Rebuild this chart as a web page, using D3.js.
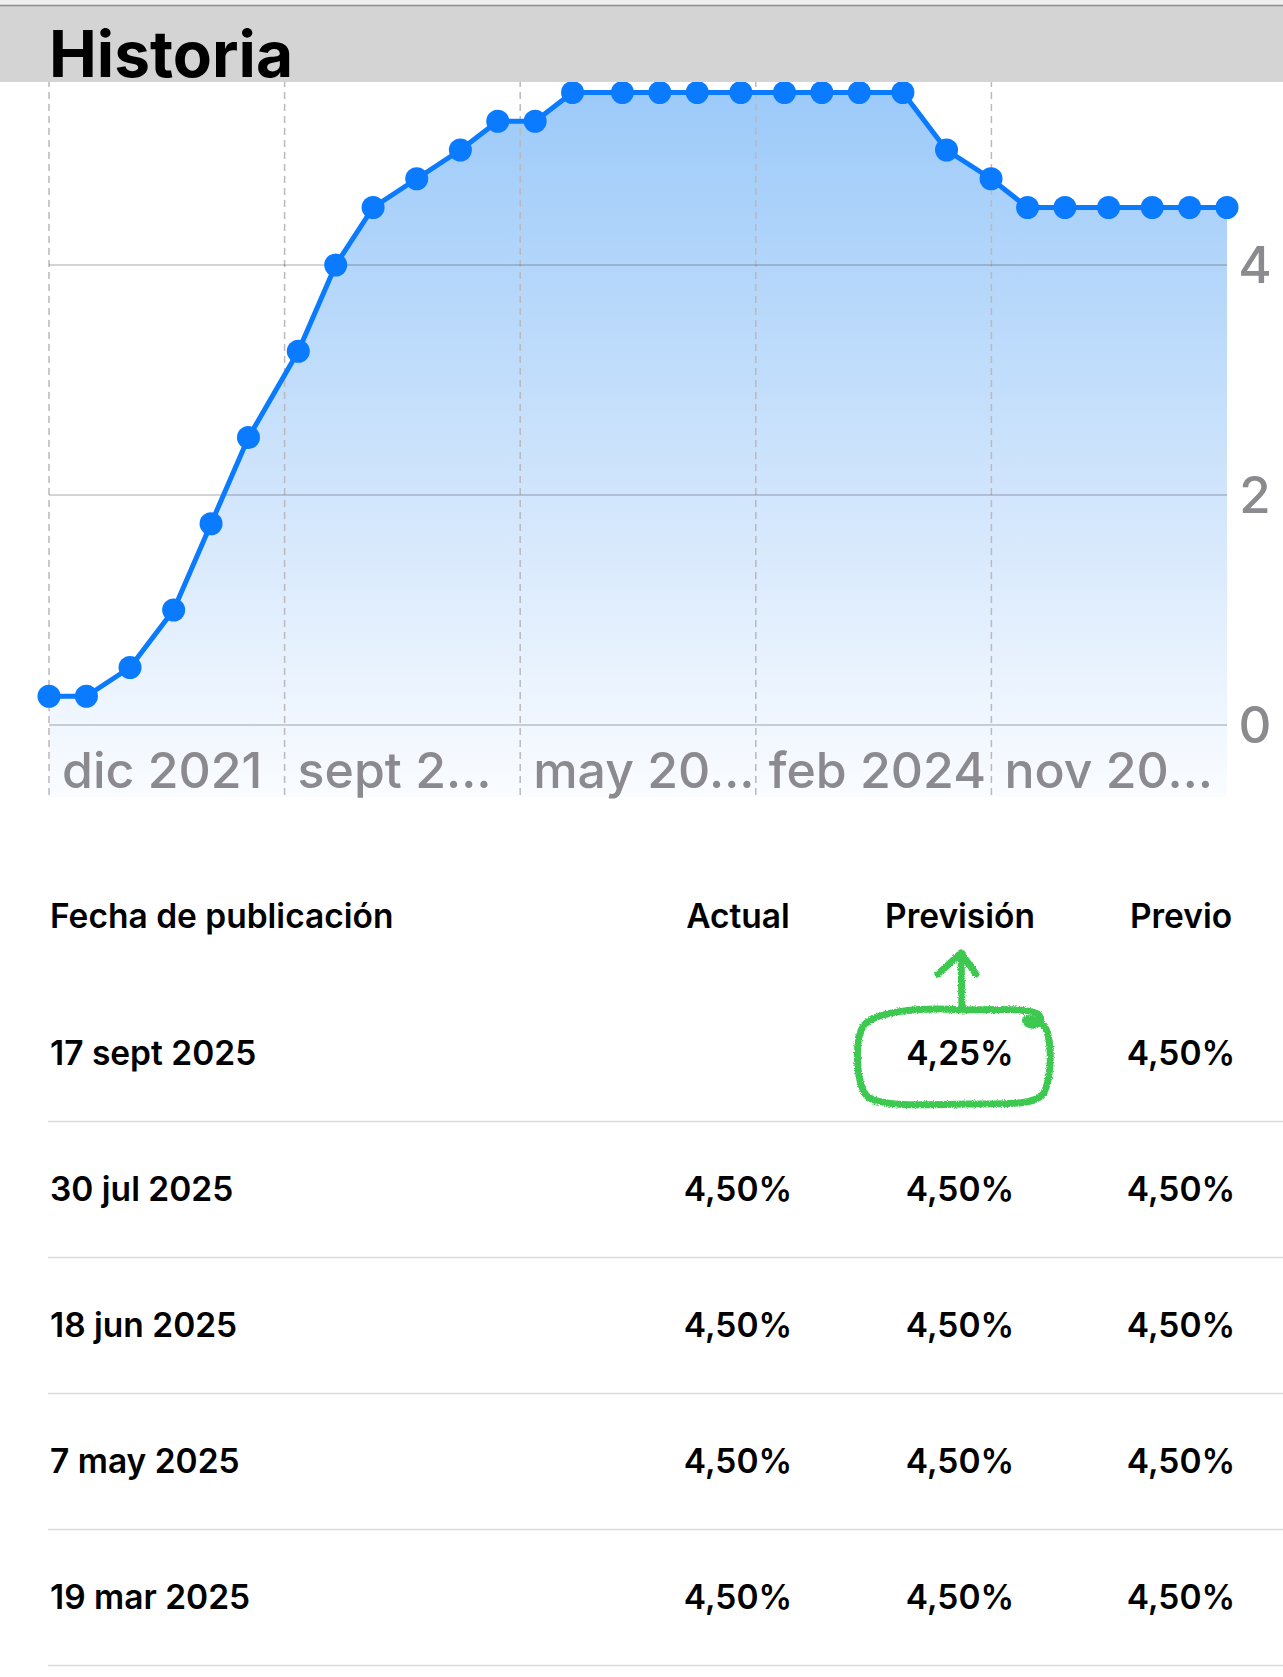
<!DOCTYPE html>
<html>
<head>
<meta charset="utf-8">
<script src="https://cdn.jsdelivr.net/npm/d3@7"></script>
<style>
  body { margin: 0; background: #fff; }
  svg { display: block; font-family: Inter, "Noto Sans", sans-serif; }
</style>
</head>
<body>
<div id="chart"></div>
<script>
// rate decisions (date, upper bound %)
var dates = ["2021-12-15","2022-01-26","2022-03-16","2022-05-04","2022-06-15","2022-07-27",
             "2022-09-21","2022-11-02","2022-12-14","2023-02-01","2023-03-22","2023-05-03",
             "2023-06-14","2023-07-26","2023-09-20","2023-11-01","2023-12-13","2024-01-31",
             "2024-03-20","2024-05-01","2024-06-12","2024-07-31","2024-09-18","2024-11-07",
             "2024-12-18","2025-01-29","2025-03-19","2025-05-07","2025-06-18","2025-07-30"];
var rates = [0.25,0.25,0.5,1.0,1.75,2.5,3.25,4.0,4.5,4.75,5.0,5.25,
             5.25,5.5,5.5,5.5,5.5,5.5,5.5,5.5,5.5,5.5,5.0,4.75,
             4.5,4.5,4.5,4.5,4.5,4.5];
var xTickLabels = ["dic 2021","sept 2…","may 20…","feb 2024","nov 20…"];
var yTicks = [0, 2, 4];

// table
var columns = ["Fecha de publicación","Actual","Previsión","Previo"];
var pubDates = ["17 sept 2025","30 jul 2025","18 jun 2025","7 may 2025","19 mar 2025"];
var actual   = [null, 4.5, 4.5, 4.5, 4.5];
var forecast = [4.25, 4.5, 4.5, 4.5, 4.5];
var previous = [4.5, 4.5, 4.5, 4.5, 4.5];

var W = 1283, H = 1677;
var parse = d3.timeParse("%Y-%m-%d");
var data = dates.map(function(d, i) { return {date: parse(d), value: rates[i]}; });

var svg = d3.select("#chart").append("svg")
    .attr("width", W)
    .attr("height", H);

var defs = svg.append("defs");
var grad = defs.append("linearGradient")
    .attr("id", "fillGrad")
    .attr("x1", 0).attr("y1", 0).attr("x2", 0).attr("y2", 1);
grad.append("stop").attr("offset", "0%").attr("stop-color", "#9ccaf9");
grad.append("stop").attr("offset", "55%").attr("stop-color", "#cfe4fc");
grad.append("stop").attr("offset", "100%").attr("stop-color", "#fafcff");

// crayon look for the annotation
var rough = defs.append("filter").attr("id", "rough")
    .attr("x", "-10%").attr("y", "-10%").attr("width", "120%").attr("height", "120%");
rough.append("feTurbulence").attr("type", "fractalNoise")
    .attr("baseFrequency", 0.9).attr("numOctaves", 2).attr("result", "noise");
rough.append("feDisplacementMap").attr("in", "SourceGraphic").attr("in2", "noise")
    .attr("scale", 3.5).attr("xChannelSelector", "R").attr("yChannelSelector", "G");

// scales
var x = d3.scaleTime()
    .domain(d3.extent(data, function(d) { return d.date; }))
    .range([49, 1227]);
var y = d3.scaleLinear().domain([0, 4]).range([725, 265]);
var plotBottom = 797;

// vertical dashed grid: 5 equal steps along the time range
var xr = x.range();
var xTicks = d3.range(5).map(function(k) {
  return x.invert(xr[0] + k * (xr[1] - xr[0]) / 5);
});

var g = svg.append("g");

// Area
var area = d3.area()
    .x(function(d) { return x(d.date); })
    .y0(plotBottom)
    .y1(function(d) { return y(d.value); });

g.append("path")
    .datum(data)
    .attr("d", area)
    .attr("fill", "url(#fillGrad)");

g.selectAll(".vgrid")
    .data(xTicks)
  .enter().append("line")
    .attr("class", "vgrid")
    .attr("x1", function(d) { return x(d); })
    .attr("x2", function(d) { return x(d); })
    .attr("y1", 80)
    .attr("y2", plotBottom)
    .attr("stroke", "#b9b9be")
    .attr("stroke-width", 1.5)
    .attr("stroke-dasharray", "7,5");

g.selectAll(".hgrid")
    .data(yTicks)
  .enter().append("line")
    .attr("class", "hgrid")
    .attr("x1", xr[0])
    .attr("x2", xr[1])
    .attr("y1", function(d) { return y(d); })
    .attr("y2", function(d) { return y(d); })
    .attr("stroke", "rgba(60,60,67,0.22)")
    .attr("stroke-width", 2);

// X labels
g.selectAll(".xlab")
    .data(xTicks)
  .enter().append("text")
    .attr("class", "xlab")
    .attr("x", function(d) { return x(d) + 13; })
    .attr("y", 788)
    .attr("font-size", 50)
    .attr("font-weight", 500)
    .attr("fill", "#8a8a8f")
    .text(function(d, i) { return xTickLabels[i]; });

// Y labels on the right
g.selectAll(".ylab")
    .data(yTicks)
  .enter().append("text")
    .attr("class", "ylab")
    .attr("x", 1255)
    .attr("y", function(d) { return y(d); })
    .attr("dy", "0.36em")
    .attr("text-anchor", "middle")
    .attr("font-size", 51)
    .attr("font-weight", 500)
    .attr("fill", "#8a8a8f")
    .text(function(d) { return d; });

// Line + dots
var line = d3.line()
    .x(function(d) { return x(d.date); })
    .y(function(d) { return y(d.value); });

g.append("path")
    .datum(data)
    .attr("d", line)
    .attr("fill", "none")
    .attr("stroke", "#0a7aff")
    .attr("stroke-width", 5)
    .attr("stroke-linejoin", "round");

g.selectAll("circle")
    .data(data)
  .enter().append("circle")
    .attr("cx", function(d) { return x(d.date); })
    .attr("cy", function(d) { return y(d.value); })
    .attr("r", 11.5)
    .attr("fill", "#0a7aff");

// Header bar (drawn over the chart top)
svg.append("rect").attr("x", 0).attr("y", 0).attr("width", W).attr("height", 6).attr("fill", "#efefef");
svg.append("rect").attr("x", 0).attr("y", 6).attr("width", W).attr("height", 76).attr("fill", "#d4d4d4");
svg.append("line").attr("x1", 0).attr("x2", W).attr("y1", 5.5).attr("y2", 5.5)
    .attr("stroke", "#8d8d8d").attr("stroke-width", 1.5);
svg.append("text")
    .attr("x", 49)
    .attr("y", 77)
    .attr("font-size", 64)
    .attr("font-weight", 700)
    .attr("fill", "#000")
    .text("Historia");

// Table
var fmtLocale = d3.formatLocale({decimal: ",", thousands: ".", grouping: [3], currency: ["", "€"]});
var pct = function(v) { return v == null ? "" : fmtLocale.format(".2f")(v) + "%"; };

var colX = [50, 738, 960, 1181];
var headerY = 916, rowY0 = 1053, rowH = 136;

var tbl = svg.append("g").attr("font-size", 33.5).attr("font-weight", 600).attr("fill", "#000");

tbl.selectAll(".th")
    .data(columns)
  .enter().append("text")
    .attr("class", "th")
    .attr("x", function(d, i) { return colX[i]; })
    .attr("y", headerY)
    .attr("dy", "0.35em")
    .attr("text-anchor", function(d, i) { return i == 0 ? "start" : "middle"; })
    .text(function(d) { return d; });

var rows = tbl.selectAll(".row")
    .data(pubDates)
  .enter().append("g")
    .attr("class", "row")
    .attr("transform", function(d, i) { return "translate(0," + (rowY0 + i * rowH) + ")"; });

rows.each(function(d, i) {
  var r = d3.select(this);
  var cells = [d, pct(actual[i]), pct(forecast[i]), pct(previous[i])];
  cells.forEach(function(c, j) {
    r.append("text")
      .attr("x", colX[j])
      .attr("dy", "0.35em")
      .attr("text-anchor", j == 0 ? "start" : "middle")
      .text(c);
  });
  r.append("line")
    .attr("x1", 48).attr("x2", W)
    .attr("y1", rowH / 2 + 0.5).attr("y2", rowH / 2 + 0.5)
    .attr("stroke", "#dcdcde")
    .attr("stroke-width", 1.5);
});

// Hand-drawn green mark around the first forecast
var cx = colX[2], cy = rowY0;
var p = d3.path();
p.moveTo(cx + 2, cy - 43);
p.bezierCurveTo(cx - 40, cy - 46, cx - 82, cy - 42, cx - 96, cy - 28);
p.bezierCurveTo(cx - 106, cy - 14, cx - 104, cy + 28, cx - 94, cy + 42);
p.bezierCurveTo(cx - 84, cy + 54, cx - 40, cy + 52, cx + 5, cy + 51);
p.bezierCurveTo(cx + 50, cy + 51, cx + 76, cy + 52, cx + 84, cy + 40);
p.bezierCurveTo(cx + 92, cy + 22, cx + 92, cy - 10, cx + 86, cy - 24);
p.bezierCurveTo(cx + 80, cy - 34, cx + 62, cy - 38, cx + 66, cy - 31);
p.bezierCurveTo(cx + 70, cy - 25, cx + 84, cy - 28, cx + 80, cy - 37);
p.bezierCurveTo(cx + 76, cy - 45, cx + 40, cy - 44, cx + 2, cy - 43);
// arrow
p.moveTo(cx + 2, cy - 43);
p.lineTo(cx + 1, cy - 100);
p.moveTo(cx - 22, cy - 79);
p.lineTo(cx + 1, cy - 100);
p.lineTo(cx + 16, cy - 79);

svg.append("path")
    .attr("d", p.toString())
    .attr("fill", "none")
    .attr("stroke", "#3ec94f")
    .attr("stroke-width", 7)
    .attr("stroke-linecap", "round")
    .attr("stroke-linejoin", "round")
    .attr("filter", "url(#rough)");
</script>
</body>
</html>
